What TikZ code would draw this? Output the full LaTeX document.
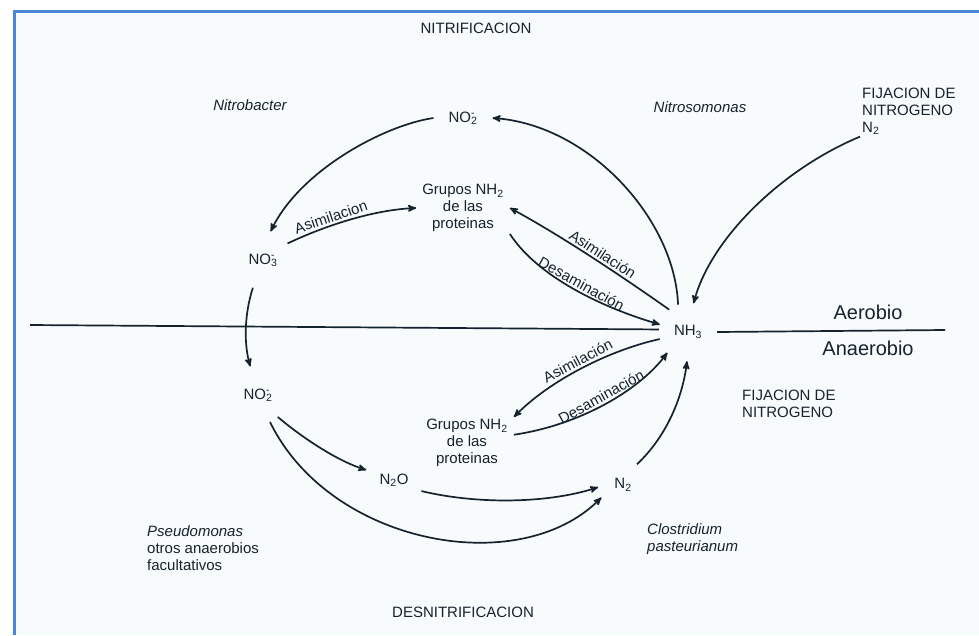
\documentclass[tikz,border=0pt]{standalone}
\usepackage{fontspec}
\setmainfont{Liberation Sans}
\usepackage{tikz}
\usetikzlibrary{arrows, positioning}
\definecolor{tinta}{HTML}{15232F}
\definecolor{marco}{HTML}{4B86D6}
\definecolor{fondo}{HTML}{F7FBFC}
\newcommand{\ionmenos}[1]{\makebox[0pt][l]{\textsuperscript{-}}\textsubscript{#1}}
\tikzset{
>=stealth', % arrow heads
every node/.style={text=tinta, font=\fontsize{15}{17}\selectfont}, % all texts
chem/.style={circle, inner sep=10pt}, % NO2, NO3, NH3, N2 ...
grupo/.style={align=center, inner xsep=6pt, inner ysep=2pt}, % grupos NH2
rotulo/.style={sloped, above, inner sep=2pt}, % Asimilacion / Desaminacion
bloque/.style={align=left, anchor=west, inner sep=2pt}, % left aligned texts
bacteria/.style={font=\fontsize{15}{17}\selectfont\itshape}, % species names
flecha/.style={->, line width=1.7pt, draw=tinta}, % connectors
linea/.style={line width=1.7pt, draw=tinta}, % aerobio / anaerobio line
}

\begin{document}
\begin{tikzpicture}[x=1pt, y=-1pt]
    \useasboundingbox (0,0) rectangle (979,635);
    \fill[white] (0,0) rectangle (979,635);
    \fill[fondo] (14,11) rectangle (979,635);
    \draw[marco, line width=3pt] (14,635) -- (14,11) -- (979,11);

    % titles and names
    \node (nitri) at (476,28) {NITRIFICACION};
    \node (desni) at (463,612) {DESNITRIFICACION};
    \node[bacteria] (nbac) at (250,105) {Nitrobacter};
    \node[bacteria] (nsom) at (700,107) {Nitrosomonas};
    \node[bloque] (pseudo) at (145,548) {\textit{Pseudomonas}\\otros anaerobios\\facultativos};
    \node[bloque, bacteria] (clos) at (645,539) {Clostridium\\pasteurianum};
    \node[bloque] (fijA) at (860,111) {FIJACION DE\\NITROGENO\\N\textsubscript{2}};
    \node[bloque] (fijB) at (740,404) {FIJACION DE\\NITROGENO};
    \node[font=\fontsize{20}{22}\selectfont] (aero) at (868,312) {Aerobio};
    \node[font=\fontsize{20}{22}\selectfont, on grid, below=36pt of aero] (anae) {Anaerobio};

    % species
    \node[chem] (nh3) at (688,332) {NH\textsubscript{3}};
    \node[chem] (no2a) at (463,118) {NO\ionmenos{2}};
    \node[chem] (no3) at (263,260) {NO\ionmenos{3}};
    \node[chem] (no2b) at (258,395) {NO\ionmenos{2}};
    \node[chem] (n2o) at (394,480) {N\textsubscript{2}O};
    \node[chem] (n2) at (623,485) {N\textsubscript{2}};
    \node[grupo] (grupA) at (463,208) {Grupos NH\textsubscript{2}\\de las\\proteinas};
    \node[grupo] (grupB) at (467,443) {Grupos NH\textsubscript{2}\\de las\\proteinas};

    % aerobio / anaerobio
    \coordinate (izq) at (30,325);
    \coordinate (der) at (945,330);
    \draw[linea] (izq) -- (nh3.175);
    \draw[linea] (nh3.east) -- (der);

    % nitrificacion
    \draw[flecha] (nh3.110) .. controls (675,220) and (590,125) .. (no2a.east);
    \draw[flecha] (no2a.west) .. controls (385,125) and (300,170) .. (no3.75);
    \draw[flecha] (no3.34) .. controls (320,228) and (370,210) .. (grupA.west)
        node[rotulo, pos=0.4] {Asimilacion};
    \draw[flecha] (nh3.130) .. controls (620,275) and (560,235) .. (grupA.east)
        node[rotulo, pos=0.45] {Asimilación};
    \draw[flecha] (grupA.south east) .. controls (540,280) and (610,310) .. (nh3.165)
        node[rotulo, pos=0.5] {Desaminación};
    \draw[flecha] (fijA.south west) .. controls (780,170) and (710,240) .. (nh3.79);

    % desnitrificacion
    \draw[flecha] (no3.250) .. controls (244,315) and (244,345) .. (no2b.105);
    \draw[flecha] (no2b.312) .. controls (305,440) and (340,462) .. (n2o.160);
    \draw[flecha] (no2b.294) .. controls (330,545) and (520,580) .. (n2.210);
    \draw[flecha] (n2o.338) .. controls (480,505) and (550,503) .. (n2.185);
    \draw[flecha] (n2.56) .. controls (668,435) and (683,395) .. (nh3.268);
    \draw[flecha] (nh3.194) .. controls (610,350) and (550,380) .. (grupB.north east)
        node[rotulo, pos=0.5] {Asimilación};
    \draw[flecha] (grupB.10) .. controls (580,425) and (640,390) .. (nh3.225)
        node[rotulo, pos=0.5] {Desaminación};
\end{tikzpicture}
\end{document}
